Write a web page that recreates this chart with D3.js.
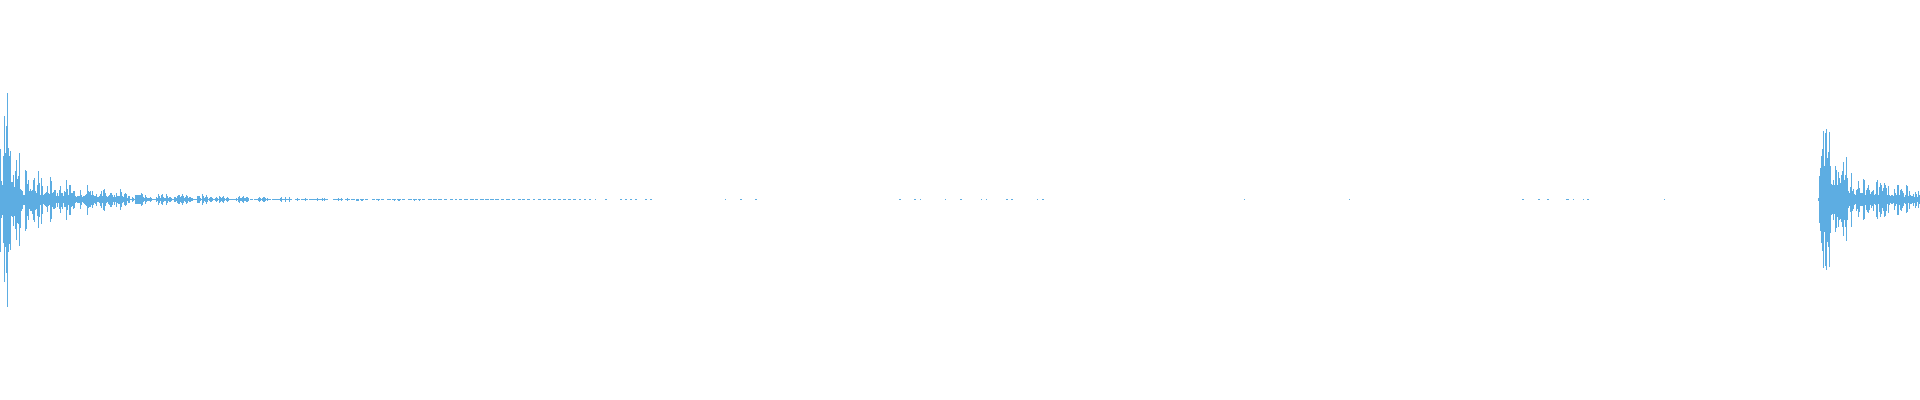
<!DOCTYPE html>
<html>
<head>
<meta charset="utf-8">
<script src="https://cdn.jsdelivr.net/npm/d3@7/dist/d3.min.js"></script>
<style>
html,body{margin:0;padding:0;background:#fff;overflow:hidden}
svg{display:block}
</style>
</head>
<body>
<svg id="chart" width="1920" height="400"></svg>
<script>
// Peak amplitude per sample column.
const headUp = [50,18,14,43,83,46,73,106,51,43,48,17,17,24,12,28,39,20,23,46,10,9,8,4,4,29,28,15,19,8,10,8,9,19,21,8,6,14,28,16,4,21,13,4,5,6,7,13,6,5,22,18,6,7,9,9,3,6,3,9,13,6,6,3,8,7,19,10,4,14,14,6,6,8,8,3,2,3,3,3,9,4,2,3,3,4,5,14,8,7,8,4,8,4,3,3,5,2,2,3,5,8,3,9,10,6,3,2,3,4,6,6,4,2,4,2,6,3,3,3];
const headDown = [52,18,15,43,82,47,73,107,52,44,50,16,17,26,16,29,40,23,24,46,28,11,9,5,5,31,29,16,20,9,11,11,14,20,22,10,9,16,28,17,5,24,14,4,5,6,7,12,6,5,22,19,7,9,9,8,3,7,3,9,13,7,9,3,7,7,20,10,5,15,15,7,6,9,8,3,2,3,3,3,9,5,2,3,4,5,6,15,8,7,7,5,8,5,3,4,6,2,2,3,6,8,3,10,11,6,3,2,4,5,7,7,5,2,5,2,7,3,4,4];
// Columns 120 to 349; null marks a column with nothing drawn.
const midPeaks = [10,7,3,2,5,6,5,1,3,3,0,0,2,1,0,4,4,4,4,4,4,6,5,2,1,4,2,1,1,1,2,1,0,0,0,0,2,1,5,3,1,4,5,2,1,1,5,3,1,2,2,1,0,0,2,2,1,3,4,4,2,3,5,3,1,2,4,3,1,2,2,1,1,0,0,0,0,3,3,3,1,0,5,3,1,2,4,2,0,1,2,2,1,0,0,1,2,1,0,3,2,1,2,3,1,0,1,2,1,0,0,0,0,0,0,0,1,0,2,3,1,1,2,3,1,1,2,2,1,null,0,0,0,null,0,0,0,0,1,2,1,0,1,2,2,1,0,1,0,0,0,null,0,0,0,0,0,0,0,0,1,2,0,0,0,2,0,0,0,2,0,0,null,null,null,0,0,1,0,0,null,0,0,0,0,1,0,0,null,0,0,0,0,0,0,0,0,1,0,0,0,0,1,0,1,0,0,0,null,null,null,null,null,0,0,0,0,0,1,0,0,1,0,null,null,0,0,1,0,0,null,null];
// Dashes on the centre line after column 350, as start and end columns.
const dashStarts = [351,356,360,365,372,376,381,387,392,397,402,408,413,418,422,428,433,438,444,450,455,459,464,470,475,480,485,490,495,501,506,512,518,522,527,533,538,543,548,553,558,563,568,573,579,584,589,595,605,620,625,630,635,645,650];
const dashEnds = [354,358,363,367,374,379,383,390,395,400,404,411,416,420,424,431,436,441,446,452,456,461,467,473,477,483,488,493,498,503,509,514,520,524,529,534,540,545,550,555,560,565,570,575,580,585,590,595,606,621,626,631,636,646,651];
const dippedColumns = [356,357,358,361,362,378,394,398,399,414,419];
// Isolated samples in the quiet stretch.
const quietColumns = [725,740,741,755,756,899,900,914,915,920,945,960,961,981,986,1006,1007,1011,1012,1037,1042,1043,1244,1349,1522,1523,1538,1539,1547,1548,1566,1567,1568,1573,1583,1587,1588,1664];
// Second burst, starting at column 1818.
const tailStart = 1818;
const tailUp = [1,23,31,43,50,68,33,66,70,41,47,67,33,15,14,19,14,33,29,14,27,21,16,24,28,37,19,24,42,21,8,6,12,26,8,10,5,4,9,10,18,11,6,6,6,20,19,4,9,11,14,9,5,7,8,9,4,5,17,19,4,12,16,14,8,11,16,14,11,4,13,4,3,4,4,3,10,6,4,14,14,4,9,10,8,6,2,4,14,13,3,8,4,3,3,5,2,7,5,2,8,4];
const tailDown = [1,23,31,43,51,68,32,66,70,42,47,67,33,15,14,20,14,32,28,17,27,20,19,22,27,36,20,27,41,20,8,6,12,27,11,9,5,4,11,9,17,12,6,6,6,20,19,5,10,12,13,10,5,8,6,11,4,5,17,19,4,12,17,14,8,11,17,16,11,4,13,5,3,4,4,3,10,6,4,15,15,5,10,11,8,6,3,4,13,12,3,9,4,4,3,6,3,8,6,2,8,4];

const color = "#5dade2";
const W = 1920, H = 400;
const x = d3.scaleLinear().domain([0, W]).range([0, W]);
const y = d3.scaleLinear().domain([-110, 110]).range([309, 89]);

const columns = [];
headUp.forEach((u, i) => columns.push({c: i, up: u, down: headDown[i]}));
midPeaks.forEach((p, i) => { if (p !== null) columns.push({c: 120 + i, up: p, down: p}); });
dashStarts.forEach((s, i) => {
  d3.range(s, dashEnds[i] + 1).forEach(c =>
    columns.push({c, up: 0, down: dippedColumns.includes(c) ? 1 : 0}));
});
quietColumns.forEach(c => columns.push({c, up: 0, down: 0}));
tailUp.forEach((u, i) => columns.push({c: tailStart + i, up: u, down: tailDown[i]}));

d3.select("#chart").append("g")
  .attr("shape-rendering", "crispEdges")
  .attr("fill", color)
  .selectAll("rect")
  .data(columns)
  .join("rect")
  .attr("x", d => x(d.c))
  .attr("width", d => x(d.c + 1) - x(d.c))
  .attr("y", d => y(d.up))
  .attr("height", d => y(-d.down) - y(d.up) + 1);
</script>
</body>
</html>
